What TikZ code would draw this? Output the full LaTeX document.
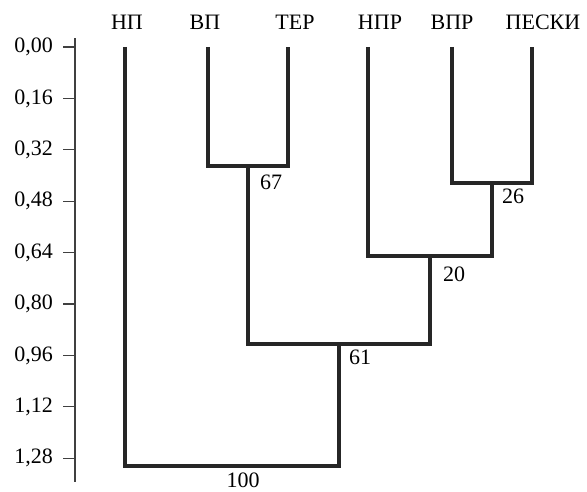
\documentclass[tikz,border=0pt]{standalone}
\usepackage{fontspec}
\setmainfont{Liberation Serif}
\usetikzlibrary{positioning}
\definecolor{dline}{HTML}{262626}
\definecolor{aline}{HTML}{404040}

\begin{document}
\begin{tikzpicture}[x=1pt, y=-321.25pt, font=\fontsize{22}{24}\selectfont,
        branch/.style={draw=dline, line width=3.2pt},
        axis/.style={draw=aline, line width=1.3pt},
        val/.style={anchor=north west, inner sep=0pt}]
    \useasboundingbox (0,-0.1463) rectangle (587,1.3852);

    % axis
    \coordinate (atop) at (75,-0.028);
    \coordinate (abot) at (75,1.354);
    \draw[axis] (atop) -- (abot);
    \foreach \v/\t [count=\i] in {0.00/{0,00}, 0.16/{0,16}, 0.32/{0,32}, 0.48/{0,48},
            0.64/{0,64}, 0.80/{0,80}, 0.96/{0,96}, 1.12/{1,12}, 1.28/{1,28}} {
        \draw[axis] (63,\v) -- (75,\v);
        \node[anchor=east, inner sep=0pt] (t\i) at (53,\v) {\t};
    }

    % leaves
    \coordinate (np) at (125,0);
    \coordinate (vp) at (208,0);
    \coordinate (ter) at (288,0);
    \coordinate (npr) at (368,0);
    \coordinate (vpr) at (452,0);
    \coordinate (pes) at (532,0);

    \node (lnp) at (127,-0.078) {НП};
    \node (lvp) at (205,-0.078) {ВП};
    \node (lter) at (295,-0.078) {ТЕР};
    \node (lnpr) at (380,-0.078) {НПР};
    \node (lvpr) at (452,-0.078) {ВПР};
    \node (lpes) at (543,-0.078) {ПЕСКИ};

    % merges
    \coordinate (m1) at (248,0.3704);
    \coordinate (m2) at (492,0.4233);
    \coordinate (m3) at (430,0.6506);
    \coordinate (m4) at (339,0.9245);
    \coordinate (m5) at (232,1.3043);

    \draw[branch] (vp) |- (m1) -| (ter);
    \draw[branch] (vpr) |- (m2) -| (pes);
    \draw[branch] (npr) |- (m3) -| (m2);
    \draw[branch] (m1) |- (m4) -| (m3);
    \draw[branch] (np) |- (m5) -| (m4);

    \node[val, xshift=12pt, yshift=-9pt] (v67) at (m1) {67};
    \node[val, xshift=10pt, yshift=-6pt] (v26) at (m2) {26};
    \node[val, xshift=13pt, yshift=-11pt] (v20) at (m3) {20};
    \node[val, xshift=10pt, yshift=-6pt] (v61) at (m4) {61};
    \node[anchor=north, inner sep=0pt, xshift=11pt, yshift=-7pt] (v100) at (m5) {100};
\end{tikzpicture}
\end{document}
